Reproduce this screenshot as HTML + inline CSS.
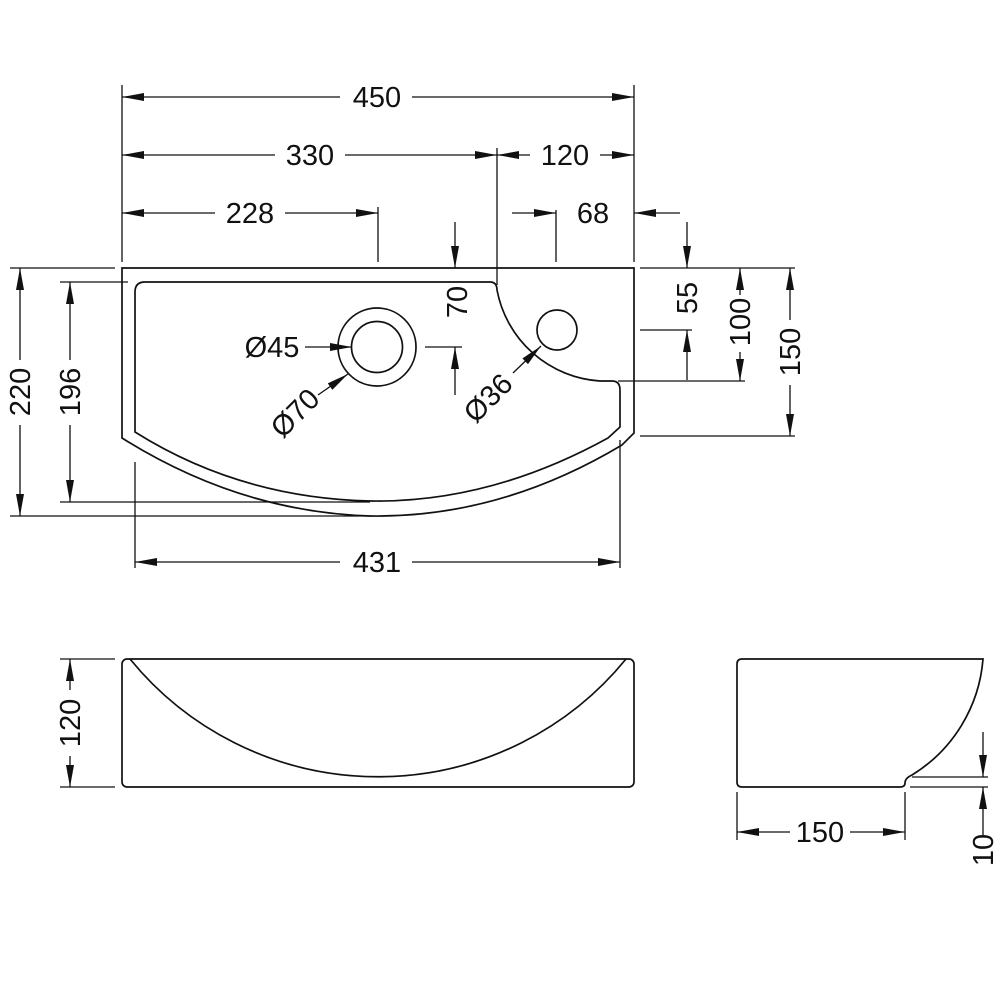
<!DOCTYPE html>
<html><head><meta charset="utf-8"><style>body{margin:0;background:#fff}svg{display:block}</style></head><body>
<svg width="1000" height="1000" viewBox="0 0 1000 1000" xmlns="http://www.w3.org/2000/svg">
<defs>
<marker id="a" viewBox="0 0 22 8" refX="22" refY="4" markerWidth="22" markerHeight="8" markerUnits="userSpaceOnUse" orient="auto"><path d="M0,0 L22,4 L0,8 Z" fill="#111"/></marker>
</defs>
<g fill="none" stroke="#111" stroke-width="1.7">
<path d="M122,268 H634 V433 L622,445 Q500,518 370,516 Q240,512 122,438 Z"/>
<path d="M145,282 H490 Q497,282 497,290 A112 112 0 0 0 600,381 H612 Q620,381 620,390 V427 L608,438 Q490,503 370,501 Q240,498 135,432 V292 Q135,282 145,282 Z"/>
<circle cx="377" cy="347" r="39"/>
<circle cx="377" cy="347" r="25.5"/>
<circle cx="557" cy="330" r="20"/>
<rect x="122" y="659" width="512" height="128" rx="5"/>
<path d="M130,659 A320 320 0 0 0 626,659"/>
<path d="M742,659 H983 A150 150 0 0 1 912,775 Q905,778 905,783 Q905,787 900,787 H742 Q737,787 737,782 V664 Q737,659 742,659 Z"/>
</g>
<g stroke="#111" stroke-width="1.3" fill="none">
<path d="M122,85V262 M634,85V262 M497,148V285 M378,207V262 M556,210V262 M10,268H115 M640,268H795 M60,282H128 M60,502H370 M10,516H370 M640,330H692 M618,381H745 M640,436H795 M425,347H462 M135,462V568 M620,440V568 M60,659H115 M60,787H115 M737,792V840 M905,792V840 M912,777H988 M910,787H988"/>
</g>
<g stroke="#111" stroke-width="1.3" fill="none" marker-end="url(#a)">
<path d="M340,97H122"/><path d="M412,97H634"/>
<path d="M275,155H122"/><path d="M345,155H497"/>
<path d="M530,155H497"/><path d="M600,155H634"/>
<path d="M215,213H122"/><path d="M285,213H378"/>
<path d="M512,213H556"/><path d="M680,213H634"/>
<path d="M455,222V268"/><path d="M455,395V347"/>
<path d="M687,222V268"/><path d="M687,380V330"/>
<path d="M740,295V268"/><path d="M740,352V381"/>
<path d="M790,320V268"/><path d="M790,385V436"/>
<path d="M20,360V268"/><path d="M20,425V516"/>
<path d="M70,360V282"/><path d="M70,425V502"/>
<path d="M340,562H135"/><path d="M412,562H620"/>
<path d="M305,347H352"/>
<path d="M318,395L348,374"/>
<path d="M513,373L541,346"/>
<path d="M70,690V659"/><path d="M70,756V787"/>
<path d="M790,832H737"/><path d="M850,832H905"/>
<path d="M983,732V777"/><path d="M983,835V787"/>
</g>
<g font-family="Liberation Sans, sans-serif" font-size="29" fill="#111" text-anchor="middle">
<text x="377" y="107">450</text>
<text x="310" y="165">330</text>
<text x="565" y="165">120</text>
<text x="250" y="223">228</text>
<text x="593" y="223">68</text>
<text x="377" y="572">431</text>
<text x="820" y="842">150</text>
<text x="272" y="357">Ø45</text>
<text transform="translate(467,302) rotate(-90)">70</text>
<text transform="translate(697,298) rotate(-90)">55</text>
<text transform="translate(750,322) rotate(-90)">100</text>
<text transform="translate(800,352) rotate(-90)">150</text>
<text transform="translate(30,392) rotate(-90)">220</text>
<text transform="translate(80,392) rotate(-90)">196</text>
<text transform="translate(80,723) rotate(-90)">120</text>
<text transform="translate(993,850) rotate(-90)">10</text>
<text transform="translate(302,420) rotate(-45)">Ø70</text>
<text transform="translate(495,405) rotate(-45)">Ø36</text>
</g>
</svg>
</body></html>
